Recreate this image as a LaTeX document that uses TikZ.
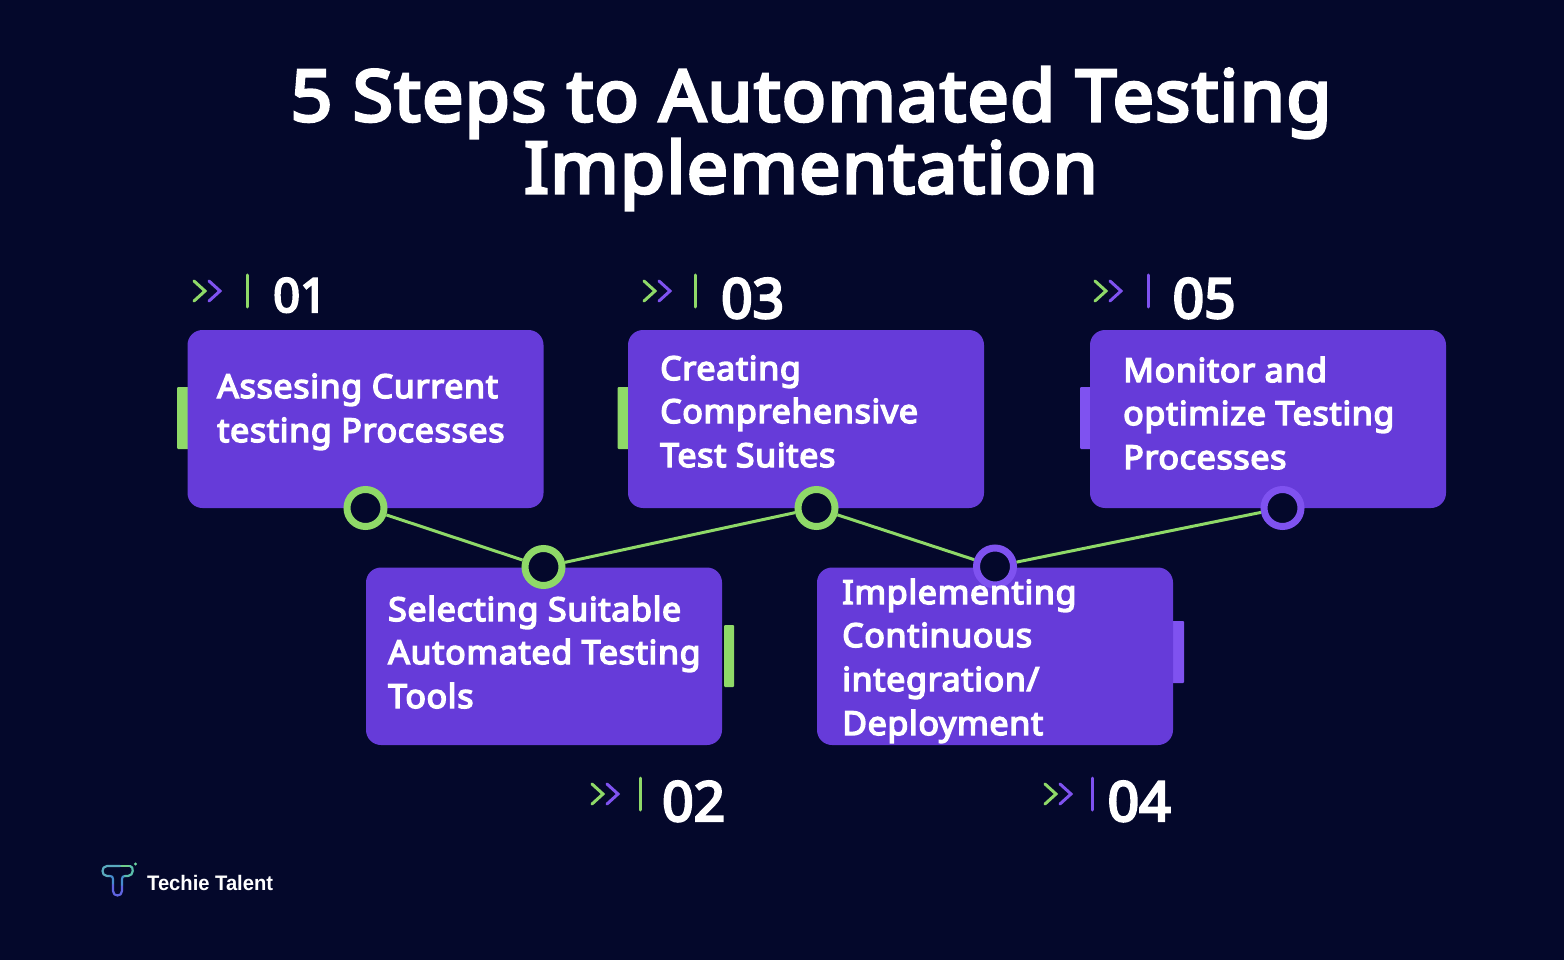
\documentclass[tikz,border=0pt]{standalone}
\usepackage{fontspec}
\setmainfont{Noto Sans}[FakeBold=4.5,FakeStretch=1.03,LetterSpace=2]
\newfontfamily\numfont{Noto Sans}[FakeBold=4.5]
\newfontfamily\logofont{Liberation Sans}[FakeStretch=0.96]
\definecolor{bgc}{HTML}{04082B}
\definecolor{boxc}{HTML}{663BD9}
\definecolor{grn}{HTML}{8FD968}
\definecolor{pur}{HTML}{7F52F0}
\tikzset{
 x=1pt,y=-1pt,
 card/.style={fill=boxc,rounded corners=15pt,draw=none},
 tabbar/.style={rounded corners=1pt,draw=none},
 ring/.style={circle,draw=#1,line width=7pt,fill=bgc,minimum size=37pt,inner sep=0pt,outer sep=3.5pt},
 link/.style={draw=grn,line width=3pt},
 ttl/.style={font=\fontsize{71}{72}\selectfont,text=white,inner sep=0pt,anchor=base},
 bodytxt/.style={font=\fontsize{33}{33}\selectfont,text=white,inner sep=0pt,anchor=base west},
 numsm/.style={font=\numfont\fontsize{47}{47}\selectfont,text=white,inner sep=0pt,anchor=base west},
 numlg/.style={font=\numfont\fontsize{55}{55}\selectfont,text=white,inner sep=0pt,anchor=base west},
 chev/.style={line width=3pt,line cap=round,line join=miter,#1},
 vbar/.style={line width=3pt,line cap=round,#1},
}
\newcommand{\cardbox}[3]{\fill[card] (#1,#2) rectangle ++(356,#3);}
\newcommand{\marker}[4]{% chevron x, chevron y, bar x, bar colour
 \draw[chev=grn] (#1+2,#2-10) -- (#1+13,#2) -- (#1+2,#2+10);
 \draw[chev=pur] (#1+17,#2-10) -- (#1+28,#2) -- (#1+17,#2+10);
 \draw[vbar=#4] (#3,#2-16) -- (#3,#2+16);}
\begin{document}
\begin{tikzpicture}
\useasboundingbox (0,0) rectangle (1564,960);
\fill[bgc] (0,0) rectangle (1564,960);
% title
\node[ttl] (t1) at (811,121) {5 Steps to Automated Testing};
\node[ttl] (t2) at (811,193) {Implementation};
% side tabs
\fill[grn,tabbar] (177,387) rectangle (192,449);
\fill[grn,tabbar] (617.5,387) rectangle (632,449);
\fill[pur,tabbar] (1080,387) rectangle (1095,449);
\fill[grn,tabbar] (724,625) rectangle (734,687);
\fill[pur,tabbar] (1168,621) rectangle (1184,683);
% cards
\cardbox{187.5}{330}{178}
\cardbox{628}{330}{178}
\cardbox{1090}{330}{178}
\cardbox{366}{567.5}{177.5}
\cardbox{817}{567.5}{177.5}
% rings and links
\node[ring=grn] (r1) at (365.5,508) {};
\node[ring=grn] (r2) at (543.5,567) {};
\node[ring=grn] (r3) at (816.5,508) {};
\node[ring=pur] (r4) at (995,566.5) {};
\node[ring=pur] (r5) at (1282.5,508) {};
\draw[link] (r1) -- (r2);
\draw[link] (r2) -- (r3);
\draw[link] (r3) -- (r4);
\draw[link] (r4) -- (r5);
% card text
\node[bodytxt] (a1) at (217,398) {Assesing Current};
\node[bodytxt] (a2) at (217,442) {testing Processes};
\node[bodytxt] (b1) at (388,621) {Selecting Suitable};
\node[bodytxt] (b2) at (388,664) {Automated Testing};
\node[bodytxt] (b3) at (388,708) {Tools};
\node[bodytxt] (c1) at (660,380) {Creating};
\node[bodytxt] (c2) at (660,423) {Comprehensive};
\node[bodytxt] (c3) at (660,467) {Test Suites};
\node[bodytxt] (d1) at (842,604) {Implementing};
\node[bodytxt] (d2) at (842,647) {Continuous};
\node[bodytxt] (d3) at (842,691) {integration/};
\node[bodytxt] (d4) at (842,735) {Deployment};
\node[bodytxt] (e1) at (1123,382) {Monitor and};
\node[bodytxt] (e2) at (1123,425) {optimize Testing};
\node[bodytxt] (e3) at (1123,469) {Processes};
% step markers
\marker{192}{291}{247}{grn}
\marker{642}{291}{695.5}{grn}
\marker{1093}{291}{1148}{pur}
\marker{590}{794}{640}{grn}
\marker{1043}{794}{1092}{pur}
\node[numsm] (n1) at (273,312) {01};
\node[numlg] (n3) at (721,318) {03};
\node[numlg] (n5) at (1172.5,318) {05};
\node[numlg] (n2) at (662,821) {02};
\node[numlg] (n4) at (1107.5,821) {04};
% logo
\begin{scope}[line width=2.2pt,line cap=round,line join=round]
\draw[color={rgb,255:red,110;green,205;blue,140}] (130,866) -- (120,866);
\draw[color={rgb,255:red,90;green,170;blue,190}] (120,866) -- (107,866) .. controls (101,866) and (101,876) .. (107,876) -- (110,876);
\draw[color={rgb,255:red,70;green,140;blue,205}] (110,876) .. controls (112,876) and (113,877) .. (113,879) -- (113,885);
\draw[color={rgb,255:red,95;green,100;blue,225}] (113,885) -- (113,891) .. controls (113,897) and (122,897) .. (122,891) -- (122,885);
\draw[color={rgb,255:red,70;green,140;blue,205}] (122,885) -- (122,879) .. controls (122,877) and (123,876) .. (125,876);
\draw[color={rgb,255:red,90;green,190;blue,170}] (125,876) -- (128,876) .. controls (134,876) and (134,866) .. (130,866);
\end{scope}
\fill[color={rgb,255:red,110;green,215;blue,160}] (135.5,864) circle (1.7);
\node[font=\logofont\fontsize{21}{21}\selectfont\bfseries,text=white,inner sep=0pt,anchor=base west] (lg) at (147,890) {Techie Talent};
\end{tikzpicture}
\end{document}
